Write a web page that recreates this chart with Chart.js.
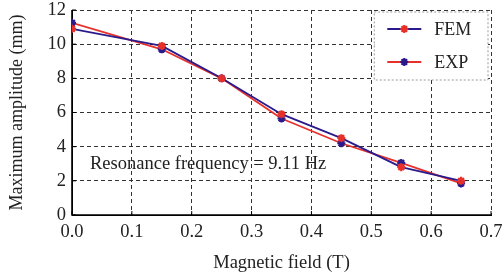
<!DOCTYPE html>
<html>
<head>
<meta charset="utf-8">
<script src="https://cdn.jsdelivr.net/npm/chart.js@4"></script>
<style>
  html, body { margin: 0; padding: 0; background: #fff; }
  #wrap { width: 503px; height: 274px; position: relative; }
</style>
</head>
<body>
<div id="wrap"><canvas id="c"></canvas></div>
<script>
const fieldT = [0.0, 0.15, 0.25, 0.35, 0.45, 0.55, 0.65];
const femAmp = [10.9, 9.9, 8.0, 5.9, 4.5, 2.8, 2.0];
const expAmp = [11.25, 9.7, 8.0, 5.65, 4.2, 3.05, 1.85];
const xTicks = [0.0, 0.1, 0.2, 0.3, 0.4, 0.5, 0.6, 0.7];
const yTicks = [0, 2, 4, 6, 8, 10, 12];
const annotationText = 'Resonance frequency = 9.11 Hz';

const BLUE = '#2a1a8c';
const RED = '#e8302a';
const FONT = '"Liberation Serif", "DejaVu Serif", serif';

const toPts = (xs, ys) => xs.map((x, i) => ({ x: x, y: ys[i] }));

const extras = {
  id: 'extras',
  beforeDatasetsDraw(chart) {
    const { ctx, chartArea } = chart;
    ctx.save();
    ctx.strokeStyle = '#000';
    ctx.lineWidth = 1.6;
    ctx.setLineDash([]);
    ctx.beginPath();
    ctx.moveTo(chartArea.left, chartArea.top);
    ctx.lineTo(chartArea.left, chartArea.bottom);
    ctx.lineTo(chartArea.right, chartArea.bottom);
    ctx.stroke();
    ctx.restore();
  },
  afterDatasetsDraw(chart) {
    const { ctx, chartArea, scales } = chart;
    ctx.save();
    // inward ticks
    ctx.strokeStyle = '#000';
    ctx.lineWidth = 1;
    xTicks.forEach(v => {
      const px = scales.x.getPixelForValue(v);
      ctx.beginPath(); ctx.moveTo(px, chartArea.bottom); ctx.lineTo(px, chartArea.bottom - 4); ctx.stroke();
    });
    yTicks.forEach(v => {
      const py = scales.y.getPixelForValue(v);
      ctx.beginPath(); ctx.moveTo(chartArea.left, py); ctx.lineTo(chartArea.left + 4, py); ctx.stroke();
    });
    // annotation
    ctx.fillStyle = '#222';
    ctx.font = '18.5px ' + FONT;
    ctx.textBaseline = 'middle';
    ctx.textAlign = 'left';
    ctx.fillText(annotationText, scales.x.getPixelForValue(0.03), scales.y.getPixelForValue(2.95));
    // legend
    const lx = scales.x.getPixelForValue(0.5) + 3, ly = chartArea.top + 2;
    const lw = chartArea.right - lx - 3, lh = 68;
    ctx.fillStyle = '#fff';
    ctx.fillRect(lx, ly, lw, lh);
    ctx.setLineDash([2, 2]);
    ctx.strokeStyle = '#999';
    ctx.lineWidth = 1;
    ctx.strokeRect(lx, ly, lw, lh);
    ctx.setLineDash([]);
    const entries = [
      { label: 'FEM', line: BLUE, mark: RED },
      { label: 'EXP', line: RED, mark: BLUE }
    ];
    entries.forEach((e, i) => {
      const cy = ly + 17 + i * 33;
      ctx.strokeStyle = e.line; ctx.lineWidth = 1.8;
      ctx.beginPath(); ctx.moveTo(lx + 13, cy); ctx.lineTo(lx + 47, cy); ctx.stroke();
      ctx.strokeStyle = e.mark; ctx.fillStyle = e.mark; ctx.lineWidth = 2.2;
      Chart.helpers.drawPoint(ctx, { pointStyle: 'star', radius: 4, borderWidth: 2.2 }, lx + 30, cy);
      ctx.fillStyle = '#222';
      ctx.font = '18px ' + FONT;
      ctx.textAlign = 'left';
      ctx.fillText(e.label, lx + 60, cy + 1);
    });
    ctx.restore();
  }
};

new Chart(document.getElementById('c'), {
  type: 'line',
  data: {
    datasets: [
      {
        label: 'FEM',
        data: toPts(fieldT, femAmp),
        borderColor: BLUE,
        borderWidth: 1.8,
        pointStyle: 'star',
        pointRadius: 4,
        pointBorderWidth: 2.2,
        pointBorderColor: RED,
        pointBackgroundColor: RED,
        tension: 0
      },
      {
        label: 'EXP',
        data: toPts(fieldT, expAmp),
        borderColor: RED,
        borderWidth: 1.8,
        pointStyle: 'star',
        pointRadius: 4,
        pointBorderWidth: 2.2,
        pointBorderColor: BLUE,
        pointBackgroundColor: BLUE,
        tension: 0
      }
    ]
  },
  options: {
    responsive: true,
    maintainAspectRatio: false,
    animation: false,
    layout: { padding: { top: 10, right: 12, left: 0, bottom: 0 } },
    plugins: { legend: { display: false }, tooltip: { enabled: false } },
    scales: {
      x: {
        type: 'linear',
        min: 0, max: 0.7,
        afterBuildTicks: s => { s.ticks = xTicks.map(v => ({ value: v })); },
        afterFit: s => { s.height = 59; s.paddingRight = 0; s.paddingLeft = 0; },
        ticks: {
          color: '#222',
          font: { family: FONT, size: 18.5 },
          padding: 6,
          maxRotation: 0,
          callback: v => Number(v).toFixed(1)
        },
        grid: { color: '#333', lineWidth: 1, drawTicks: false },
        border: { display: true, color: '#000', width: 1, dash: [4, 3] },
        title: {
          display: true,
          text: 'Magnetic field (T)',
          color: '#222',
          font: { family: FONT, size: 18.5 },
          padding: { top: 0, bottom: 0 }
        }
      },
      y: {
        type: 'linear',
        min: 0, max: 12,
        afterBuildTicks: s => { s.ticks = yTicks.map(v => ({ value: v })); },
        afterFit: s => { s.width = 72; s.paddingTop = 0; s.paddingBottom = 0; },
        ticks: {
          color: '#222',
          font: { family: FONT, size: 18.5 },
          padding: 6
        },
        grid: { color: '#333', lineWidth: 1, drawTicks: false },
        border: { display: true, color: '#000', width: 1, dash: [4, 3] },
        title: {
          display: true,
          text: 'Maximum amplitude (mm)',
          color: '#222',
          font: { family: FONT, size: 18 },
          padding: { top: 6, bottom: 4 }
        }
      }
    },
    elements: { line: { borderJoinStyle: 'round' } }
  },
  plugins: [extras]
});
</script>
</body>
</html>
